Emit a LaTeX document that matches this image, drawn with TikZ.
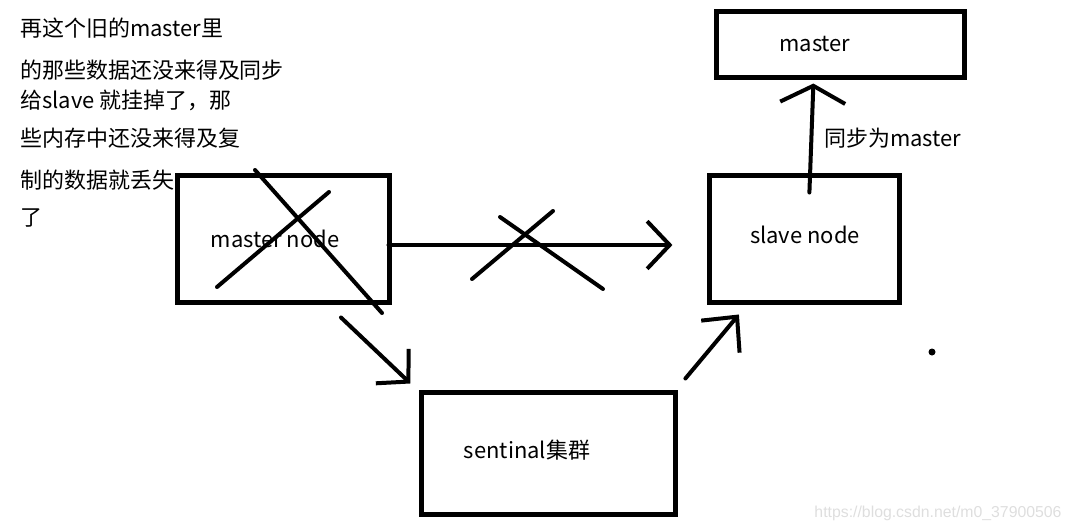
\documentclass[tikz,border=0pt]{standalone}
\usepackage{fontspec}
\setmainfont{Noto Sans CJK SC}
\newfontfamily\urlfont{Liberation Sans}
\usetikzlibrary{positioning,arrows.meta}

\tikzset{
  box/.style={draw, line width=0.1cm, inner sep=0pt},
  hand/.style={line width=0.08cm, line cap=round, line join=round},
  hand arrow/.style={hand, -{Straight Barb[length=0.45cm,width=0.95cm]}},
}

\begin{document}
\begin{tikzpicture}[x=0.02cm, y=-0.02cm, node distance=2cm, on grid,
    font=\fontsize{12.5}{15}\selectfont]
    \useasboundingbox (0,0) rectangle (1071,531);

    % note on the left
    \foreach \y/\line in {28/再这个旧的master里, 70/的那些数据还没来得及同步,
        100/给slave 就挂掉了，那, 138/些内存中还没来得及复, 180/制的数据就丢失, 218/了}
        \node[anchor=west, inner sep=0pt] (note\y) at (20,\y) {\line};

    \node[box, minimum width=4.26cm, minimum height=2.56cm,
        label={[xshift=-0.17cm]center:master node}] (mnode) at (283.5,239) {};
    \node[box, minimum width=3.8cm, minimum height=2.56cm,
        label={[yshift=0.08cm]center:slave node}] (snode) [right=10.43cm of mnode] {};
    \node[box, minimum width=4.96cm, minimum height=1.32cm,
        label={[xshift=-0.52cm]center:master}] (mbox) [above right=3.9cm and 0.72cm of snode] {};
    \node[box, minimum width=5.08cm, minimum height=2.44cm,
        label={[xshift=-0.44cm,yshift=0.08cm]center:sentinal集群}] (sent) [below right=4.3cm and 5.31cm of mnode] {};

    % crossed out
    \draw[hand] (255,170) -- (382,313);
    \draw[hand] (217,287) -- (329,192);
    \draw[hand] (500,217) -- (603,289);
    \draw[hand] (472,279) -- (553,211);

    \draw[hand arrow] ([xshift=-0.08cm,yshift=-0.12cm]mnode.east)
        -- ([xshift=-0.7cm,yshift=-0.12cm]snode.west);
    \draw[hand arrow, -{Straight Barb[length=0.34cm,width=1.3cm]}]
        ([xshift=0.09cm,yshift=-0.4cm]snode.north)
        -- node[right, xshift=0.1cm] (synclabel) {同步为master}
        ([xshift=-0.55cm,yshift=-0.08cm]mbox.south);
    \draw[hand arrow] ([xshift=1.15cm,yshift=-0.24cm]mnode.south)
        -- ([xshift=-0.18cm,yshift=0.14cm]sent.north west);
    \draw[hand arrow, -{Straight Barb[length=0.52cm,width=1cm]}]
        ([xshift=0.14cm,yshift=0.24cm]sent.north east)
        -- ([xshift=0.63cm,yshift=-0.18cm]snode.south west);

    \fill (932,352) circle[radius=0.07cm];

    \node[text=black!13, font=\urlfont\fontsize{9}{10}\selectfont] (url) at (938,513)
        {https://blog.csdn.net/m0\_37900506};
\end{tikzpicture}
\end{document}
